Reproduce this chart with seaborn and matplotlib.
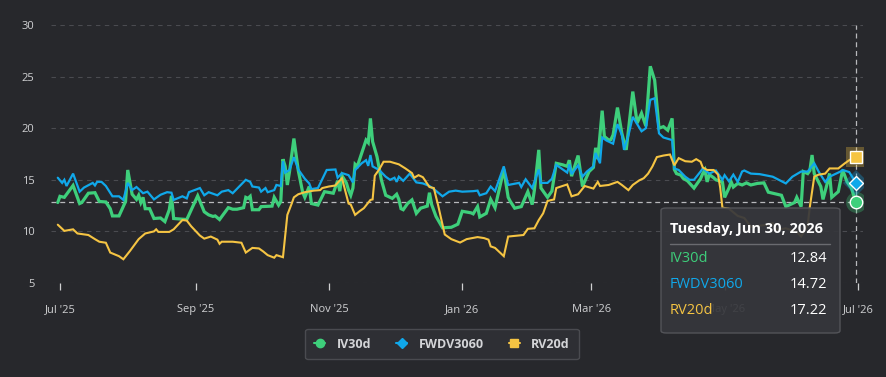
import pandas as pd
import matplotlib
matplotlib.use('Agg')
import matplotlib.pyplot as plt
from matplotlib.patches import FancyBboxPatch
from matplotlib.lines import Line2D
import seaborn as sns

# days counted from 2025-07-01
START = pd.Timestamp('2025-07-01')

iv_day = [-1, 0, 2, 6, 9, 10, 13, 16, 18, 21, 23, 24, 27, 30, 31, 33, 35, 36, 37, 38,
          39, 41, 43, 46, 48, 50, 51, 52, 58, 63, 66, 67, 68, 70, 71, 73, 77, 79, 81, 84,
          85, 86, 87, 88, 91, 92, 97, 98, 100, 101, 102, 103, 104, 105, 107, 109, 111, 112, 114, 115,
          118, 121, 125, 127, 128, 129, 131, 132, 133, 134, 135, 136, 139, 140, 141, 142, 143, 145, 147, 149,
          152, 154, 155, 156, 157, 159, 161, 163, 165, 168, 169, 170, 172, 175, 179, 182, 184, 188, 189, 191,
          192, 195, 197, 199, 203, 205, 206, 208, 211, 214, 216, 217, 219, 220, 223, 225, 227, 230, 232, 233,
          234, 237, 239, 242, 244, 245, 246, 248, 249, 251, 252, 253, 255, 257, 259, 262, 264, 266, 268, 270,
          272, 274, 276, 278, 280, 281, 282, 284, 285, 287, 290, 293, 294, 295, 296, 297, 299, 300, 303, 304,
          306, 307, 308, 310, 312, 314, 316, 319, 322, 324, 328, 330, 332, 336, 337, 339, 340, 342, 343, 344,
          345, 348, 349, 351, 352, 353, 356, 358, 360, 362, 364]
iv30d = [12.8, 13.4, 13.3, 14.45, 12.7, 12.8, 13.7, 13.75, 12.9, 12.85, 12.2, 11.5, 11.5, 12.9, 15.95, 13.6, 13.1, 13.5, 12.8, 13.3,
         12.2, 12.2, 11.25, 11.3, 10.95, 12.1, 13.45, 11.25, 11.15, 13.45, 11.9, 11.75, 11.6, 11.45, 11.5, 11.15, 12.3, 12.15, 12.15, 12.3,
         13.3, 13.2, 13.4, 12.1, 12.1, 12.4, 12.45, 13.3, 12.55, 12.9, 17.0, 16.3, 14.5, 15.8, 19.0, 15.9, 13.8, 13.3, 14.35, 12.7,
         12.55, 13.85, 13.7, 14.9, 13.9, 15.4, 14.7, 14.0, 13.5, 14.2, 16.5, 16.3, 18.2, 18.85, 18.6, 20.95, 18.7, 17.25, 15.0, 13.5,
         13.2, 13.6, 13.1, 12.2, 12.1, 12.7, 13.05, 11.75, 12.25, 12.45, 13.75, 12.6, 11.45, 10.35, 10.4, 10.7, 11.95, 11.8, 11.7, 12.4,
         11.4, 11.75, 13.1, 12.3, 16.0, 13.3, 12.9, 12.25, 12.4, 13.85, 12.6, 14.0, 17.9, 14.2, 13.3, 13.9, 16.6, 16.45, 16.3, 16.9,
         15.35, 17.35, 14.35, 15.8, 16.2, 18.1, 17.0, 21.7, 19.2, 18.85, 18.9, 19.35, 22.0, 19.5, 17.9, 23.55, 20.5, 21.45, 20.2, 26.0,
         24.65, 20.0, 20.15, 19.8, 20.95, 16.0, 15.6, 15.45, 15.15, 14.9, 14.2, 15.1, 15.6, 15.95, 14.8, 15.5, 15.2, 15.0, 14.8, 13.3,
         14.2, 14.8, 14.3, 14.65, 14.5, 14.7, 14.5, 14.65, 14.7, 13.8, 13.6, 13.5, 12.4, 12.8, 13.3, 12.4, 15.8, 15.6, 15.9, 17.4,
         15.6, 14.35, 13.1, 14.7, 15.6, 13.3, 13.85, 15.95, 14.8, 14.2, 12.84]

fwd_day = [-1, 1, 2, 3, 6, 9, 11, 15, 16, 17, 19, 21, 24, 27, 29, 31, 33, 35, 38, 40,
           43, 46, 49, 51, 52, 56, 58, 59, 64, 66, 68, 72, 74, 77, 79, 85, 87, 88, 91, 92,
           94, 95, 98, 99, 101, 102, 103, 105, 107, 109, 112, 114, 115, 118, 122, 126, 127, 129, 132, 134,
           135, 138, 140, 141, 142, 143, 146, 149, 151, 153, 154, 155, 157, 160, 163, 166, 169, 171, 175, 178,
           181, 184, 189, 191, 192, 195, 197, 199, 203, 205, 210, 211, 213, 216, 217, 219, 220, 223, 225, 227,
           232, 233, 234, 237, 239, 241, 244, 245, 247, 248, 250, 253, 255, 257, 258, 260, 262, 264, 266, 268,
           270, 272, 274, 276, 280, 281, 283, 286, 288, 290, 293, 294, 297, 300, 303, 304, 306, 308, 310, 312,
           313, 316, 320, 326, 332, 335, 339, 342, 345, 347, 350, 352, 357, 358, 361, 364]
fwdv3060 = [15.2, 14.7, 15.0, 14.4, 15.6, 13.85, 14.25, 14.7, 14.45, 14.8, 14.8, 14.4, 13.4, 13.4, 13.05, 14.7, 14.0, 14.3, 13.7, 13.85,
            13.1, 13.55, 13.8, 13.75, 13.05, 13.4, 13.2, 13.8, 14.2, 13.5, 13.8, 13.5, 13.85, 14.0, 13.7, 15.0, 14.8, 14.35, 14.25, 13.85,
            14.2, 13.8, 14.0, 14.5, 14.4, 16.8, 15.7, 15.95, 17.2, 16.0, 15.1, 14.65, 14.1, 14.2, 15.95, 16.0, 15.2, 15.65, 15.45, 14.75,
            15.95, 16.6, 16.9, 16.35, 17.4, 16.3, 15.95, 15.3, 15.0, 15.2, 14.8, 15.3, 14.9, 15.6, 14.75, 14.65, 14.4, 14.1, 13.4, 13.85,
            13.95, 13.85, 13.9, 13.95, 13.5, 13.7, 14.35, 13.9, 16.3, 14.5, 14.7, 14.3, 15.05, 14.2, 14.8, 16.0, 14.7, 14.7, 15.1, 16.45,
            15.7, 16.5, 15.55, 16.4, 15.3, 15.8, 16.3, 17.6, 16.6, 19.1, 18.8, 18.5, 20.4, 19.35, 17.9, 19.3, 21.1, 20.4, 19.7, 20.0,
            22.75, 22.9, 19.5, 19.1, 18.85, 16.1, 15.95, 15.3, 15.0, 15.0, 15.8, 16.1, 15.6, 15.9, 15.0, 15.45, 14.85, 15.5, 14.8, 15.8,
            15.9, 15.6, 15.55, 15.3, 14.65, 15.3, 15.8, 15.8, 16.6, 15.8, 14.8, 15.3, 15.8, 15.95, 15.75, 14.72]

rv_day = [-1, 2, 6, 8, 13, 16, 18, 21, 23, 27, 29, 32, 36, 39, 43, 44, 45, 50, 52, 56,
          58, 60, 64, 66, 69, 72, 73, 74, 79, 83, 85, 86, 88, 91, 93, 95, 98, 99, 102, 104,
          106, 107, 109, 112, 116, 119, 120, 123, 126, 127, 129, 132, 133, 135, 137, 139, 142, 143, 144, 146,
          148, 151, 155, 158, 161, 162, 164, 166, 169, 171, 173, 176, 179, 183, 186, 191, 194, 196, 197, 199,
          203, 205, 212, 214, 217, 219, 221, 223, 226, 227, 232, 234, 237, 240, 244, 246, 247, 251, 255, 257,
          260, 262, 265, 267, 269, 271, 273, 276, 279, 281, 283, 286, 289, 291, 293, 294, 296, 299, 301, 302,
          303, 306, 310, 313, 316, 322, 326, 328, 332, 337, 339, 342, 343, 345, 347, 350, 352, 356, 359, 361,
          364]
rv20d = [10.65, 10.05, 10.2, 9.8, 9.65, 9.25, 9.0, 8.9, 7.95, 7.6, 7.3, 8.1, 9.25, 9.8, 10.0, 10.2, 9.95, 9.95, 10.2, 11.1,
         11.05, 10.5, 9.6, 9.3, 9.5, 9.2, 8.8, 9.0, 9.0, 8.9, 7.95, 8.1, 8.4, 8.35, 8.05, 7.7, 7.45, 7.7, 7.5, 11.6,
         12.7, 13.3, 13.6, 13.8, 13.95, 14.0, 14.2, 14.35, 14.45, 14.7, 15.15, 12.7, 12.6, 11.6, 11.95, 12.25, 13.05, 13.1, 15.4, 16.0,
         16.75, 16.75, 16.5, 16.1, 15.65, 15.2, 15.45, 15.25, 14.3, 14.2, 12.5, 9.7, 9.25, 8.92, 9.25, 9.45, 9.35, 9.2, 8.55, 8.4,
         7.6, 9.5, 9.65, 10.25, 10.3, 11.1, 11.75, 12.95, 13.1, 14.2, 14.55, 13.4, 13.6, 14.4, 14.15, 14.8, 14.4, 14.5, 14.8, 14.5,
         14.0, 14.5, 14.95, 15.15, 15.6, 16.3, 17.2, 17.35, 17.45, 16.4, 17.1, 16.8, 16.75, 17.0, 16.75, 16.2, 15.95, 15.95, 15.5, 14.2,
         12.3, 12.2, 11.5, 11.3, 10.45, 10.6, 10.8, 10.15, 10.3, 9.95, 9.5, 10.6, 12.4, 15.3, 15.5, 15.6, 16.1, 16.1, 16.6, 16.9,
         17.22]

series_names = ['IV30d', 'FWDV3060', 'RV20d']
colors = ['#3ecf7b', '#10a8ea', '#f5c443']
markers = ['o', 'D', 's']
tick_months = ['2025-07-01', '2025-09-01', '2025-11-01', '2026-01-01', '2026-03-01', '2026-05-01', '2026-07-01']
tooltip_title = 'Tuesday, Jun 30, 2026'

BG = '#27282c'
W, H = 887, 377


def to_frame(days, vals, name):
    return pd.DataFrame({'date': START + pd.to_timedelta(days, unit='D'),
                         'value': vals, 'series': name})


def fx(x):
    return x / W


def fy(y):
    return 1 - y / H


sns.set_theme(style='dark')
plt.rcParams['font.family'] = ['Open Sans', 'DejaVu Sans']

frames = [to_frame(iv_day, iv30d, 'IV30d'),
          to_frame(fwd_day, fwdv3060, 'FWDV3060'),
          to_frame(rv_day, rv20d, 'RV20d')]

fig = plt.figure(figsize=(W / 100, H / 100), dpi=100, facecolor=BG)
ax = fig.add_axes([fx(51), fy(283), fx(863 - 51), (283 - 25) / H])
ax.set_facecolor(BG)

widths = [2.3, 1.6, 1.5]
for df, c, lw in zip(frames, colors, widths):
    sns.lineplot(data=df, x='date', y='value', color=c, linewidth=lw, ax=ax,
                 legend=False, solid_joinstyle='miter')

ax.set_ylim(5, 30)
ax.set_yticks([5, 10, 15, 20, 25, 30])
ax.set_xlim(START + pd.Timedelta(days=-4.1), START + pd.Timedelta(days=367.3))
ticks = pd.to_datetime(tick_months)
ax.set_xticks(ticks)
ax.set_xticklabels([t.strftime("%b '%y") for t in ticks])
ax.set_xlabel('')
ax.set_ylabel('')
for s in ax.spines.values():
    s.set_visible(False)
ax.yaxis.grid(True, color='#4a4b50', linestyle=(0, (4, 4)), linewidth=0.8)
ax.xaxis.grid(False)
ax.tick_params(axis='y', length=0, pad=12, labelcolor='#cfd0d2', labelsize=8)
ax.tick_params(axis='x', length=5, width=0.9, color='#cfd0d2', direction='out',
               pad=10, labelcolor='#cfd0d2', labelsize=8, bottom=True)

# crosshair at the hovered day
last_day = frames[0]['date'].iloc[-1]
ax.axvline(last_day, color='#b8b9bc', linestyle=(0, (4, 3)), linewidth=0.9, zorder=1)
ax.axhline(iv30d[-1], color='#b8b9bc', linestyle=(0, (4, 3)), linewidth=0.9, zorder=1)

last_vals = [iv30d[-1], fwdv3060[-1], rv20d[-1]]
for v, c, m in zip(last_vals, colors, markers):
    ax.plot([last_day], [v], marker=m, markersize=15 if m != 'D' else 13, color=c,
            alpha=0.3, linestyle='none', markeredgewidth=0, zorder=5)
    ax.plot([last_day], [v], marker=m, markersize=9 if m != 'D' else 7.5, color=c,
            markeredgecolor='white', markeredgewidth=1.0, linestyle='none', zorder=6)

# tooltip
box = FancyBboxPatch((fx(661), fy(333)), fx(840 - 661), (333 - 208) / H,
                     boxstyle='round,pad=0,rounding_size=0.006',
                     transform=fig.transFigure, facecolor='#36373c', alpha=0.93,
                     edgecolor='#56575c', linewidth=1.0, zorder=20)
fig.patches.append(box)
fig.text(fx(670), fy(229), tooltip_title, color='white', fontsize=10.5,
         fontweight='bold', va='center', ha='left', zorder=21)
fig.add_artist(Line2D([fx(670), fx(830)], [fy(244), fy(244)], color='#6a6b70',
                      linewidth=1.0, transform=fig.transFigure, zorder=21))
row_y = [259, 285, 311]
for name, v, c, yy in zip(series_names, last_vals, colors, row_y):
    fig.text(fx(670), fy(yy), name, color=c, fontsize=10.5, va='center', ha='left', zorder=21)
    fig.text(fx(827), fy(yy), f'{v:.2f}', color='white', fontsize=10.5,
             va='center', ha='right', zorder=21)

# legend
handles = [Line2D([], [], color=c, marker=m, markersize=6 if m != 'D' else 5,
                  linewidth=1.5, linestyle='-') for c, m in zip(colors, markers)]
leg = fig.legend(handles, series_names, loc='center', bbox_to_anchor=(fx(442), fy(344)),
                 ncol=3, frameon=True, facecolor='#2e2f34', edgecolor='#4a4b50',
                 fancybox=True, handlelength=0.9, handletextpad=0.9, columnspacing=2.0,
                 borderpad=0.7, prop={'weight': 'bold', 'size': 9})
leg.get_frame().set_alpha(1)
leg.get_frame().set_linewidth(1.0)
for t in leg.get_texts():
    t.set_color('#d4d5d8')

fig.savefig('out.png', dpi=100, facecolor=BG)
